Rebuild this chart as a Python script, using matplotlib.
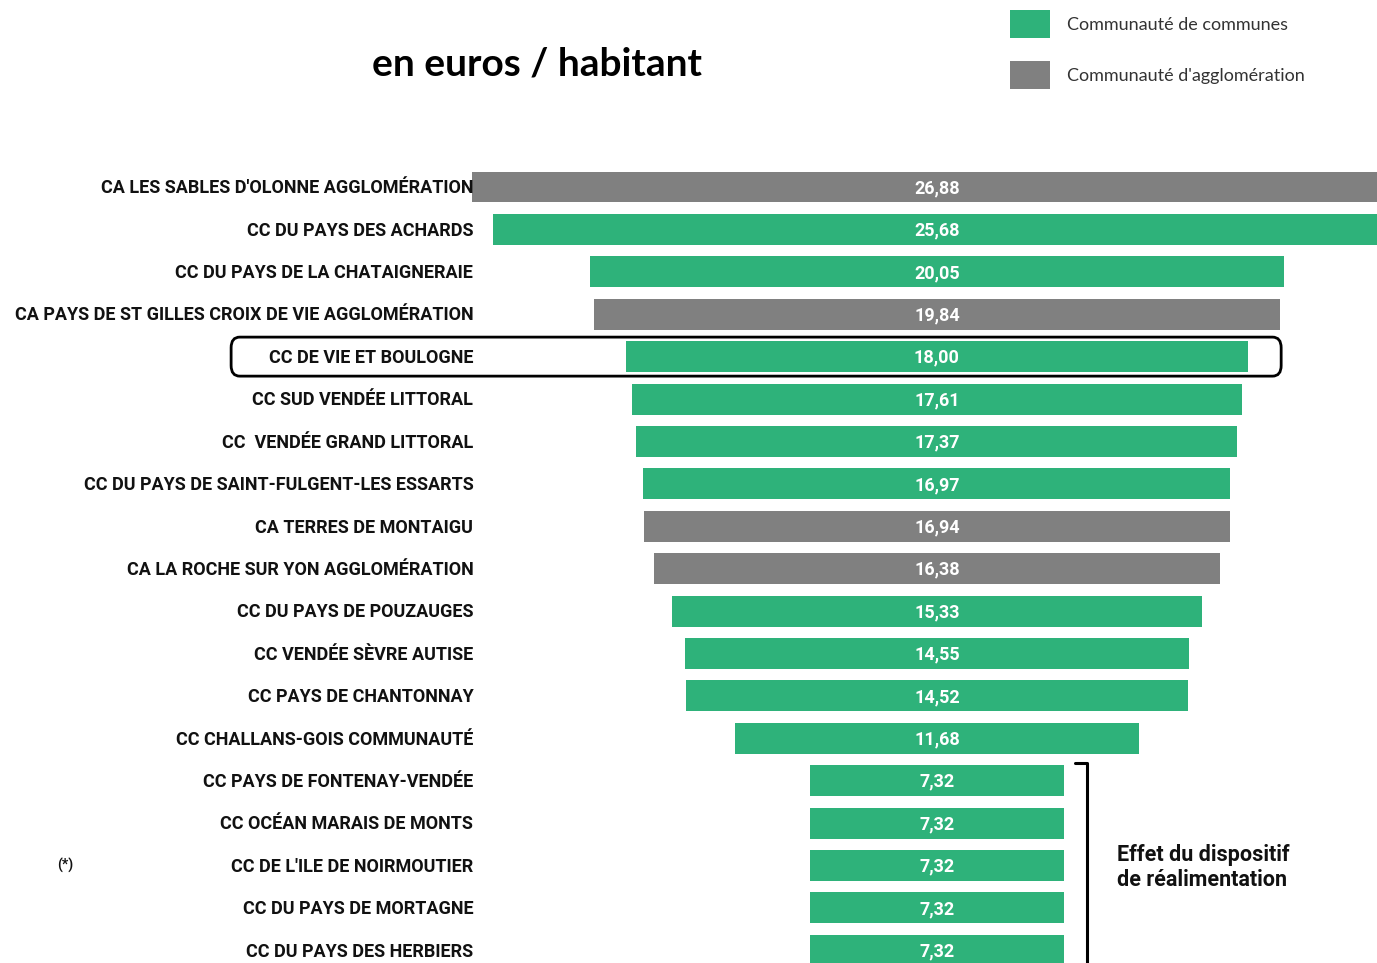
import matplotlib.pyplot as plt
from matplotlib.patches import Patch, FancyBboxPatch

labels = [
    "CA LES SABLES D'OLONNE AGGLOMÉRATION",
    "CC DU PAYS DES ACHARDS",
    "CC DU PAYS DE LA CHATAIGNERAIE",
    "CA PAYS DE ST GILLES CROIX DE VIE AGGLOMÉRATION",
    "CC DE VIE ET BOULOGNE",
    "CC SUD VENDÉE LITTORAL",
    "CC  VENDÉE GRAND LITTORAL",
    "CC DU PAYS DE SAINT-FULGENT-LES ESSARTS",
    "CA TERRES DE MONTAIGU",
    "CA LA ROCHE SUR YON AGGLOMÉRATION",
    "CC DU PAYS DE POUZAUGES",
    "CC VENDÉE SÈVRE AUTISE",
    "CC PAYS DE CHANTONNAY",
    "CC CHALLANS-GOIS COMMUNAUTÉ",
    "CC PAYS DE FONTENAY-VENDÉE",
    "CC OCÉAN MARAIS DE MONTS",
    "CC DE L'ILE DE NOIRMOUTIER",
    "CC DU PAYS DE MORTAGNE",
    "CC DU PAYS DES HERBIERS",
]
values = [26.88, 25.68, 20.05, 19.84, 18.00, 17.61, 17.37, 16.97, 16.94, 16.38,
          15.33, 14.55, 14.52, 11.68, 7.32, 7.32, 7.32, 7.32, 7.32]
kinds = ["CA", "CC", "CC", "CA", "CC", "CC", "CC", "CC", "CA", "CA",
         "CC", "CC", "CC", "CC", "CC", "CC", "CC", "CC", "CC"]

green = "#2eb27a"
grey = "#808080"
colors = {"CC": green, "CA": grey}

fig = plt.figure(figsize=(13.77, 9.63), dpi=100)
ax = fig.add_axes([0, 0, 1, 1])
ax.set_xlim(-27.08, 12.72)
ax.set_ylim(18.30, -4.41)
ax.axis("off")

rows = list(range(len(labels)))
ax.barh(rows, values, left=[-v / 2 for v in values], height=0.73,
        color=[colors[k] for k in kinds])

lab_font = ["Roboto", "DejaVu Sans"]
for i, (lab, v) in enumerate(zip(labels, values)):
    ax.text(-13.4, i + 0.03, lab, ha="right", va="center", fontsize=13,
            fontweight="bold", family=lab_font, color="#111111")
    ax.text(0, i + 0.03, f"{v:.2f}".replace(".", ","), ha="center",
            va="center", fontsize=13, fontweight="bold", family=lab_font,
            color="white")

# highlighted row
box = FancyBboxPatch((-20.4, 4 - 0.46), 30.35, 0.92,
                     boxstyle="round,pad=0,rounding_size=0.25",
                     fill=False, edgecolor="black", linewidth=2)
ax.add_patch(box)

# bracket for the last five rows
ax.plot([3.98, 4.34, 4.34], [13.58, 13.58, 18.5], color="black", lw=2.2,
        solid_capstyle="round")
ax.text(5.2, 16.05, "Effet du dispositif\nde réalimentation", ha="left",
        va="center", fontsize=15.5, fontweight="bold", family=lab_font,
        linespacing=1.2, color="#111111")
ax.text(-25.2, 16.0, "(*)", ha="center", va="center", fontsize=10,
        fontweight="bold", family=lab_font, color="#111111")

fig.text(0.39, 0.934, "en euros / habitant", ha="center", va="center",
         fontsize=28, fontweight="bold", family="Lato")

handles = [Patch(facecolor=green), Patch(facecolor=grey)]
fig.legend(handles, ["Communauté de communes", "Communauté d'agglomération"],
           loc="upper left", bbox_to_anchor=(0.722, 1.006), frameon=False,
           handlelength=2.2, handleheight=1.95,
           handletextpad=0.95, labelspacing=1.3, labelcolor="#333333",
           prop={"family": "Lato", "size": 13})

plt.savefig("out.png")
